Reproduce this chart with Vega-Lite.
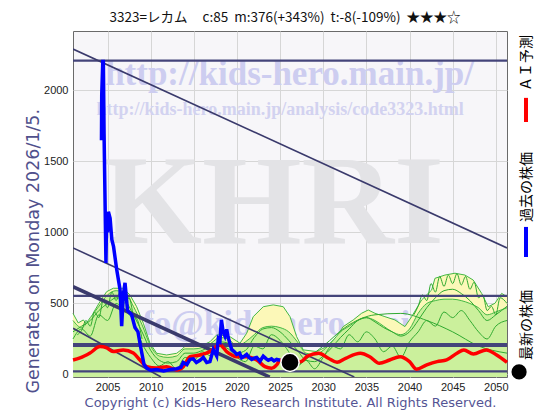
{
  "$schema": "https://vega.github.io/schema/vega-lite/v6.json",
  "width": 434,
  "height": 346,
  "autosize": {"type": "none"},
  "padding": {"left": 73, "top": 31, "right": 53, "bottom": 43},
  "background": "white",
  "title": {
    "text": "3323=レカム\u00a0\u00a0\u00a0\u00a0\u00a0c:85\u00a0\u00a0m:376(+343%)\u00a0\u00a0t:-8(-109%)\u00a0\u00a0★★★☆",
    "font": "Noto Sans CJK JP",
    "fontSize": 13.5,
    "fontWeight": "normal",
    "color": "#111111",
    "anchor": "middle",
    "offset": 7,
    "dx": -5
  },
  "config": {
    "view": {"fill": "#f7f6f9", "stroke": "#6a6a6a", "strokeWidth": 1}
  },
  "datasets": {
    "blue": [
      {"x": 2004.30, "y": 1650}, {"x": 2004.33, "y": 1970}, {"x": 2004.45, "y": 2205}, {"x": 2004.52, "y": 2205},
      {"x": 2004.6, "y": 1700}, {"x": 2004.7, "y": 1280}, {"x": 2004.82, "y": 785}, {"x": 2004.9, "y": 1137},
      {"x": 2005.0, "y": 1000}, {"x": 2005.1, "y": 1146}, {"x": 2005.3, "y": 1100}, {"x": 2005.5, "y": 950},
      {"x": 2005.7, "y": 900}, {"x": 2006.06, "y": 741}, {"x": 2006.45, "y": 599}, {"x": 2006.64, "y": 340},
      {"x": 2006.83, "y": 560}, {"x": 2007.03, "y": 645}, {"x": 2007.32, "y": 450}, {"x": 2007.8, "y": 420},
      {"x": 2008.18, "y": 330}, {"x": 2008.53, "y": 300}, {"x": 2008.82, "y": 200}, {"x": 2009.23, "y": 70},
      {"x": 2009.54, "y": 45}, {"x": 2010.0, "y": 30}, {"x": 2010.7, "y": 35}, {"x": 2011.5, "y": 25},
      {"x": 2012.24, "y": 35}, {"x": 2013.02, "y": 40}, {"x": 2013.5, "y": 50}, {"x": 2013.78, "y": 85},
      {"x": 2014.2, "y": 70}, {"x": 2014.56, "y": 106}, {"x": 2014.94, "y": 110}, {"x": 2015.3, "y": 84},
      {"x": 2015.72, "y": 100}, {"x": 2016.1, "y": 120}, {"x": 2016.5, "y": 84}, {"x": 2016.87, "y": 90},
      {"x": 2017.26, "y": 176}, {"x": 2017.65, "y": 130}, {"x": 2017.84, "y": 250}, {"x": 2018.03, "y": 235},
      {"x": 2018.2, "y": 385}, {"x": 2018.4, "y": 300}, {"x": 2018.61, "y": 270}, {"x": 2018.81, "y": 317},
      {"x": 2018.99, "y": 260}, {"x": 2019.39, "y": 176}, {"x": 2019.7, "y": 160}, {"x": 2019.97, "y": 141},
      {"x": 2020.3, "y": 150}, {"x": 2020.55, "y": 117}, {"x": 2020.9, "y": 130}, {"x": 2021.13, "y": 141},
      {"x": 2021.4, "y": 120}, {"x": 2021.71, "y": 106}, {"x": 2022.0, "y": 115}, {"x": 2022.29, "y": 120},
      {"x": 2022.67, "y": 93}, {"x": 2023.05, "y": 129}, {"x": 2023.4, "y": 110}, {"x": 2023.63, "y": 100},
      {"x": 2024.0, "y": 110}, {"x": 2024.3, "y": 95}, {"x": 2024.6, "y": 106}, {"x": 2025.0, "y": 100}
    ],
    "red": [
      {"x": 2001.0, "y": 102}, {"x": 2001.81, "y": 116}, {"x": 2002.97, "y": 151}, {"x": 2004.13, "y": 196},
      {"x": 2004.91, "y": 187}, {"x": 2005.64, "y": 161}, {"x": 2006.83, "y": 173}, {"x": 2007.99, "y": 151},
      {"x": 2008.76, "y": 102}, {"x": 2009.54, "y": 55}, {"x": 2010.7, "y": 46}, {"x": 2011.86, "y": 55},
      {"x": 2013.02, "y": 32}, {"x": 2013.78, "y": 55}, {"x": 2014.56, "y": 125}, {"x": 2015.72, "y": 137},
      {"x": 2016.87, "y": 161}, {"x": 2018.03, "y": 208}, {"x": 2018.81, "y": 161}, {"x": 2019.97, "y": 125},
      {"x": 2021.13, "y": 125}, {"x": 2022.29, "y": 102}, {"x": 2023.25, "y": 55}, {"x": 2024.02, "y": 44},
      {"x": 2024.6, "y": 67}, {"x": 2024.99, "y": 100}, {"x": 2026.15, "y": 100}, {"x": 2027.4, "y": 90},
      {"x": 2028.2, "y": 130}, {"x": 2029.5, "y": 149}, {"x": 2030.6, "y": 114}, {"x": 2031.6, "y": 86},
      {"x": 2032.6, "y": 114}, {"x": 2034.3, "y": 149}, {"x": 2035.4, "y": 125}, {"x": 2036.5, "y": 79},
      {"x": 2037.7, "y": 102}, {"x": 2038.9, "y": 125}, {"x": 2040.0, "y": 90}, {"x": 2040.8, "y": 37},
      {"x": 2042.0, "y": 67}, {"x": 2043.2, "y": 90}, {"x": 2044.3, "y": 102}, {"x": 2045.5, "y": 149},
      {"x": 2046.3, "y": 173}, {"x": 2047.4, "y": 144}, {"x": 2048.9, "y": 173}, {"x": 2050.1, "y": 137},
      {"x": 2051.3, "y": 85}
    ],
    "yel": [
      {"x": 2001.0, "y": 430}, {"x": 2001.6, "y": 363}, {"x": 2002.2, "y": 384}, {"x": 2002.8, "y": 337},
      {"x": 2003.35, "y": 433}, {"x": 2004.13, "y": 513}, {"x": 2004.9, "y": 583}, {"x": 2005.67, "y": 607},
      {"x": 2006.83, "y": 607}, {"x": 2007.6, "y": 560}, {"x": 2008.38, "y": 477}, {"x": 2009.15, "y": 361},
      {"x": 2009.92, "y": 220}, {"x": 2010.7, "y": 149}, {"x": 2011.86, "y": 137}, {"x": 2013.02, "y": 149},
      {"x": 2013.78, "y": 185}, {"x": 2014.18, "y": 220}, {"x": 2014.94, "y": 196}, {"x": 2016.1, "y": 208},
      {"x": 2016.87, "y": 230}, {"x": 2017.65, "y": 278}, {"x": 2018.03, "y": 278}, {"x": 2019.19, "y": 266},
      {"x": 2020.35, "y": 220}, {"x": 2021.13, "y": 290}, {"x": 2021.89, "y": 407}, {"x": 2023.05, "y": 477},
      {"x": 2024.21, "y": 490}, {"x": 2025.37, "y": 477}, {"x": 2026.15, "y": 407}, {"x": 2026.92, "y": 266},
      {"x": 2027.69, "y": 173}, {"x": 2029.24, "y": 161}, {"x": 2030.4, "y": 196}, {"x": 2031.56, "y": 266},
      {"x": 2032.32, "y": 337}, {"x": 2033.48, "y": 384}, {"x": 2034.45, "y": 431}, {"x": 2035.22, "y": 454},
      {"x": 2035.99, "y": 431}, {"x": 2037.15, "y": 407}, {"x": 2038.31, "y": 384}, {"x": 2039.47, "y": 337},
      {"x": 2040.25, "y": 407}, {"x": 2041.41, "y": 525}, {"x": 2042.57, "y": 595}, {"x": 2042.95, "y": 677},
      {"x": 2044.11, "y": 700}, {"x": 2045.27, "y": 713}, {"x": 2046.42, "y": 700}, {"x": 2047.38, "y": 665},
      {"x": 2048.36, "y": 571}, {"x": 2049.12, "y": 477}, {"x": 2049.9, "y": 501}, {"x": 2050.68, "y": 571},
      {"x": 2051.3, "y": 547}
    ],
    "grn": [
      {"x": 2001, "y": 380}, {"x": 2002, "y": 330}, {"x": 2003, "y": 400}, {"x": 2004, "y": 480},
      {"x": 2005, "y": 560}, {"x": 2006, "y": 590}, {"x": 2007, "y": 580}, {"x": 2008, "y": 480},
      {"x": 2009, "y": 350}, {"x": 2010, "y": 200}, {"x": 2011, "y": 130}, {"x": 2012, "y": 120},
      {"x": 2013, "y": 130}, {"x": 2014, "y": 180}, {"x": 2015, "y": 180}, {"x": 2016, "y": 190},
      {"x": 2017, "y": 220}, {"x": 2018, "y": 260}, {"x": 2019, "y": 250}, {"x": 2020, "y": 200},
      {"x": 2021, "y": 230}, {"x": 2022, "y": 280}, {"x": 2023, "y": 330}, {"x": 2024, "y": 340},
      {"x": 2025, "y": 330}, {"x": 2026, "y": 300}, {"x": 2027, "y": 230}, {"x": 2028, "y": 150},
      {"x": 2029, "y": 140}, {"x": 2030, "y": 170}, {"x": 2031, "y": 230}, {"x": 2032, "y": 300},
      {"x": 2033, "y": 340}, {"x": 2034, "y": 380}, {"x": 2035, "y": 400}, {"x": 2036, "y": 380},
      {"x": 2037, "y": 340}, {"x": 2038, "y": 300}, {"x": 2039, "y": 280}, {"x": 2040, "y": 320},
      {"x": 2041, "y": 430}, {"x": 2042, "y": 500}, {"x": 2043, "y": 520}, {"x": 2044, "y": 530},
      {"x": 2045, "y": 530}, {"x": 2046, "y": 520}, {"x": 2047, "y": 500}, {"x": 2048, "y": 470},
      {"x": 2049, "y": 420}, {"x": 2050, "y": 440}, {"x": 2051.3, "y": 470}
    ],
    "glines": [
      {"id": "g2", "x": 2001, "y": 300}, {"id": "g2", "x": 2002, "y": 340}, {"id": "g2", "x": 2003, "y": 380}, {"id": "g2", "x": 2004, "y": 450},
      {"id": "g2", "x": 2005, "y": 500}, {"id": "g2", "x": 2006, "y": 540}, {"id": "g2", "x": 2007, "y": 520}, {"id": "g2", "x": 2008, "y": 420},
      {"id": "g2", "x": 2009, "y": 300}, {"id": "g2", "x": 2010, "y": 170}, {"id": "g2", "x": 2011, "y": 100}, {"id": "g2", "x": 2012, "y": 80},
      {"id": "g2", "x": 2013, "y": 90}, {"id": "g2", "x": 2014, "y": 150}, {"id": "g2", "x": 2015, "y": 150}, {"id": "g2", "x": 2016, "y": 170},
      {"id": "g2", "x": 2017, "y": 200}, {"id": "g2", "x": 2018, "y": 230}, {"id": "g2", "x": 2019, "y": 220}, {"id": "g2", "x": 2020, "y": 150},
      {"id": "g2", "x": 2021, "y": 170}, {"id": "g2", "x": 2022, "y": 260}, {"id": "g2", "x": 2023, "y": 320}, {"id": "g2", "x": 2024, "y": 330},
      {"id": "g2", "x": 2025, "y": 300}, {"id": "g2", "x": 2026, "y": 240}, {"id": "g2", "x": 2027, "y": 170}, {"id": "g2", "x": 2028, "y": 100},
      {"id": "g2", "x": 2029, "y": 90}, {"id": "g2", "x": 2030, "y": 130}, {"id": "g2", "x": 2031, "y": 190}, {"id": "g2", "x": 2032, "y": 260},
      {"id": "g2", "x": 2033, "y": 320}, {"id": "g2", "x": 2034, "y": 380}, {"id": "g2", "x": 2035, "y": 400}, {"id": "g2", "x": 2036, "y": 370},
      {"id": "g2", "x": 2037, "y": 330}, {"id": "g2", "x": 2038, "y": 300}, {"id": "g2", "x": 2039, "y": 270}, {"id": "g2", "x": 2040, "y": 300},
      {"id": "g2", "x": 2041, "y": 380}, {"id": "g2", "x": 2042, "y": 470}, {"id": "g2", "x": 2043, "y": 540}, {"id": "g2", "x": 2044, "y": 590},
      {"id": "g2", "x": 2045, "y": 600}, {"id": "g2", "x": 2046, "y": 570}, {"id": "g2", "x": 2047, "y": 520}, {"id": "g2", "x": 2048, "y": 450},
      {"id": "g2", "x": 2049, "y": 380}, {"id": "g2", "x": 2050, "y": 420}, {"id": "g2", "x": 2051.3, "y": 480},
      {"id": "g3", "x": 2001, "y": 250}, {"id": "g3", "x": 2002, "y": 320}, {"id": "g3", "x": 2003, "y": 270}, {"id": "g3", "x": 2004, "y": 420},
      {"id": "g3", "x": 2005, "y": 380}, {"id": "g3", "x": 2006, "y": 500}, {"id": "g3", "x": 2007, "y": 450}, {"id": "g3", "x": 2008, "y": 380},
      {"id": "g3", "x": 2009, "y": 220}, {"id": "g3", "x": 2010, "y": 120}, {"id": "g3", "x": 2011, "y": 60}, {"id": "g3", "x": 2012, "y": 90},
      {"id": "g3", "x": 2013, "y": 40}, {"id": "g3", "x": 2014, "y": 120}, {"id": "g3", "x": 2015, "y": 100}, {"id": "g3", "x": 2016, "y": 160},
      {"id": "g3", "x": 2017, "y": 130}, {"id": "g3", "x": 2018, "y": 200}, {"id": "g3", "x": 2019, "y": 180}, {"id": "g3", "x": 2020, "y": 120},
      {"id": "g3", "x": 2021, "y": 90}, {"id": "g3", "x": 2022, "y": 200}, {"id": "g3", "x": 2023, "y": 180}, {"id": "g3", "x": 2024, "y": 280},
      {"id": "g3", "x": 2025, "y": 240}, {"id": "g3", "x": 2026, "y": 160}, {"id": "g3", "x": 2027, "y": 60}, {"id": "g3", "x": 2028, "y": 100},
      {"id": "g3", "x": 2029, "y": 40}, {"id": "g3", "x": 2030, "y": 120}, {"id": "g3", "x": 2031, "y": 200}, {"id": "g3", "x": 2032, "y": 180},
      {"id": "g3", "x": 2033, "y": 280}, {"id": "g3", "x": 2034, "y": 230}, {"id": "g3", "x": 2035, "y": 300}, {"id": "g3", "x": 2036, "y": 250},
      {"id": "g3", "x": 2037, "y": 160}, {"id": "g3", "x": 2038, "y": 200}, {"id": "g3", "x": 2039, "y": 120}, {"id": "g3", "x": 2040, "y": 230},
      {"id": "g3", "x": 2041, "y": 300}, {"id": "g3", "x": 2042, "y": 380}, {"id": "g3", "x": 2043, "y": 340}, {"id": "g3", "x": 2044, "y": 440},
      {"id": "g3", "x": 2045, "y": 400}, {"id": "g3", "x": 2046, "y": 450}, {"id": "g3", "x": 2047, "y": 380}, {"id": "g3", "x": 2048, "y": 300},
      {"id": "g3", "x": 2049, "y": 250}, {"id": "g3", "x": 2050, "y": 340}, {"id": "g3", "x": 2051.3, "y": 380},
      {"id": "g4", "x": 2040.5, "y": 420}, {"id": "g4", "x": 2041, "y": 480}, {"id": "g4", "x": 2041.5, "y": 560}, {"id": "g4", "x": 2042, "y": 520},
      {"id": "g4", "x": 2042.5, "y": 640}, {"id": "g4", "x": 2043, "y": 580}, {"id": "g4", "x": 2043.5, "y": 690}, {"id": "g4", "x": 2044, "y": 620},
      {"id": "g4", "x": 2044.5, "y": 700}, {"id": "g4", "x": 2045, "y": 640}, {"id": "g4", "x": 2045.5, "y": 710}, {"id": "g4", "x": 2046, "y": 630},
      {"id": "g4", "x": 2046.5, "y": 690}, {"id": "g4", "x": 2047, "y": 600}, {"id": "g4", "x": 2047.5, "y": 650}, {"id": "g4", "x": 2048, "y": 540},
      {"id": "g4", "x": 2048.5, "y": 560}, {"id": "g4", "x": 2049, "y": 450}, {"id": "g4", "x": 2049.5, "y": 480}, {"id": "g4", "x": 2050, "y": 420},
      {"id": "g4", "x": 2050.5, "y": 540}, {"id": "g4", "x": 2051.3, "y": 500},
      {"id": "g5", "x": 2001.5, "y": 280}, {"id": "g5", "x": 2002, "y": 310}, {"id": "g5", "x": 2002.5, "y": 380}, {"id": "g5", "x": 2003, "y": 340},
      {"id": "g5", "x": 2003.5, "y": 440}, {"id": "g5", "x": 2004, "y": 400}, {"id": "g5", "x": 2004.5, "y": 520}, {"id": "g5", "x": 2005, "y": 470},
      {"id": "g5", "x": 2005.5, "y": 580}, {"id": "g5", "x": 2006, "y": 520}, {"id": "g5", "x": 2006.5, "y": 590}, {"id": "g5", "x": 2007, "y": 500},
      {"id": "g5", "x": 2007.5, "y": 540}, {"id": "g5", "x": 2008, "y": 420}, {"id": "g5", "x": 2008.5, "y": 380}, {"id": "g5", "x": 2009, "y": 250},
      {"id": "g6", "x": 2027, "y": 60}, {"id": "g6", "x": 2030, "y": 200}, {"id": "g6", "x": 2033, "y": 350}, {"id": "g6", "x": 2036, "y": 420},
      {"id": "g6", "x": 2039, "y": 430}, {"id": "g6", "x": 2042, "y": 380}, {"id": "g6", "x": 2045, "y": 300}, {"id": "g6", "x": 2048, "y": 200},
      {"id": "g6", "x": 2051.3, "y": 150}
    ],
    "diag": [
      {"id": "a", "x": 2001, "y": 2292}, {"id": "a", "x": 2051.3, "y": 891},
      {"id": "b", "x": 2001, "y": 891}, {"id": "b", "x": 2033.6, "y": -18},
      {"id": "d", "x": 2001, "y": 325}, {"id": "d", "x": 2011.2, "y": -18}
    ],
    "thick": [{"x": 2001, "y": 618}, {"x": 2023.8, "y": -18}]
  },
  "layer": [
    {
      "data": {"values": [{"x": 2026.1, "y": 2039, "t": "http://kids-hero.main.jp/"}]},
      "mark": {"type": "text", "font": "Liberation Serif", "fontWeight": "bold", "fontSize": 35, "color": "#cdcdf0", "align": "center", "baseline": "alphabetic"},
      "encoding": {
        "x": {"field": "x", "type": "quantitative", "scale": {"domain": [2001, 2051.3], "nice": false, "zero": false},
          "axis": {"values": [2005, 2010, 2015, 2020, 2025, 2030, 2035, 2040, 2045, 2050], "format": "d",
            "title": "Copyright (c) Kids-Hero Research Institute. All Rights Reserved.",
            "titleFont": "DejaVu Sans", "titleFontSize": 13, "titleFontWeight": "normal", "titleColor": "#545494", "titlePadding": 4,
            "labelFont": "Liberation Sans", "labelFontSize": 11, "labelColor": "#222222", "labelPadding": 4,
            "grid": true, "gridColor": "#d6d6d6", "domain": false, "tickSize": 0}},
        "y": {"field": "y", "type": "quantitative", "scale": {"domain": [-18, 2419], "nice": false, "zero": false},
          "axis": {"values": [0, 500, 1000, 1500, 2000], "format": "d",
            "title": "Generated on Monday 2026/1/5.",
            "titleFont": "DejaVu Sans", "titleFontSize": 17.5, "titleFontWeight": "normal", "titleColor": "#50508c",
            "titleX": -40, "titleY": 362, "titleAngle": 270, "titleAlign": "left", "titleBaseline": "middle",
            "labelFont": "Liberation Sans", "labelFontSize": 11, "labelColor": "#222222", "labelPadding": 5,
            "grid": true, "gridColor": "#d6d6d6", "domain": false, "tickSize": 0}},
        "text": {"field": "t"}
      }
    },
    {
      "data": {"values": [{"x": 2025.0, "y": 1828, "t": "http://kids-hero.main.jp/analysis/code3323.html"}]},
      "mark": {"type": "text", "font": "Liberation Serif", "fontWeight": "bold", "fontSize": 18, "color": "#d2d2f0", "align": "center", "baseline": "alphabetic"},
      "encoding": {
        "x": {"field": "x", "type": "quantitative", "scale": {"domain": [2001, 2051.3], "nice": false, "zero": false}},
        "y": {"field": "y", "type": "quantitative", "scale": {"domain": [-18, 2419], "nice": false, "zero": false}},
        "text": {"field": "t"}
      }
    },
    {
      "data": {"values": [{"x": 2024.2, "y": 926, "t": "KHRI"}]},
      "mark": {"type": "text", "font": "Liberation Serif", "fontWeight": "bold", "fontSize": 128, "color": "#e3e3e6", "align": "center", "baseline": "alphabetic"},
      "encoding": {
        "x": {"field": "x", "type": "quantitative", "scale": {"domain": [2001, 2051.3], "nice": false, "zero": false}},
        "y": {"field": "y", "type": "quantitative", "scale": {"domain": [-18, 2419], "nice": false, "zero": false}},
        "text": {"field": "t"}
      }
    },
    {
      "data": {"values": [{"x": 2026.3, "y": 278, "t": "info@kids-hero.main.jp"}]},
      "mark": {"type": "text", "font": "Liberation Serif", "fontWeight": "bold", "fontSize": 35, "color": "#cdcdf0", "align": "center", "baseline": "alphabetic"},
      "encoding": {
        "x": {"field": "x", "type": "quantitative", "scale": {"domain": [2001, 2051.3], "nice": false, "zero": false}},
        "y": {"field": "y", "type": "quantitative", "scale": {"domain": [-18, 2419], "nice": false, "zero": false}},
        "text": {"field": "t"}
      }
    },
    {
      "data": {"name": "yel"},
      "mark": {"type": "area", "color": "#fcf8b8", "opacity": 1, "line": {"color": "#44b844", "strokeWidth": 1}},
      "encoding": {
        "x": {"field": "x", "type": "quantitative", "scale": {"domain": [2001, 2051.3], "nice": false, "zero": false}},
        "y": {"field": "y", "type": "quantitative", "scale": {"domain": [-18, 2419], "nice": false, "zero": false}},
        "y2": {"datum": -18}
      }
    },
    {
      "data": {"name": "grn"},
      "mark": {"type": "area", "color": "#cbf09c", "opacity": 1, "interpolate": "monotone", "line": {"color": "#44b844", "strokeWidth": 1}},
      "encoding": {
        "x": {"field": "x", "type": "quantitative", "scale": {"domain": [2001, 2051.3], "nice": false, "zero": false}},
        "y": {"field": "y", "type": "quantitative", "scale": {"domain": [-18, 2419], "nice": false, "zero": false}},
        "y2": {"datum": -18}
      }
    },
    {
      "data": {"name": "glines"},
      "mark": {"type": "line", "color": "#30aa30", "strokeWidth": 1, "interpolate": "monotone"},
      "encoding": {
        "x": {"field": "x", "type": "quantitative", "scale": {"domain": [2001, 2051.3], "nice": false, "zero": false}},
        "y": {"field": "y", "type": "quantitative", "scale": {"domain": [-18, 2419], "nice": false, "zero": false}},
        "detail": {"field": "id"}
      }
    },
    {
      "data": {"values": [{"y": 2210}, {"y": 553}, {"y": 22}]},
      "mark": {"type": "rule", "color": "#44447a", "strokeWidth": 2.2},
      "encoding": {
        "y": {"field": "y", "type": "quantitative", "scale": {"domain": [-18, 2419], "nice": false, "zero": false}}
      }
    },
    {
      "data": {"values": [{"y": 208}]},
      "mark": {"type": "rule", "color": "#44447a", "strokeWidth": 4},
      "encoding": {
        "y": {"field": "y", "type": "quantitative", "scale": {"domain": [-18, 2419], "nice": false, "zero": false}}
      }
    },
    {
      "data": {"name": "diag"},
      "mark": {"type": "line", "color": "#3a3a6c", "strokeWidth": 1.6, "clip": true},
      "encoding": {
        "x": {"field": "x", "type": "quantitative", "scale": {"domain": [2001, 2051.3], "nice": false, "zero": false}},
        "y": {"field": "y", "type": "quantitative", "scale": {"domain": [-18, 2419], "nice": false, "zero": false}},
        "detail": {"field": "id"}
      }
    },
    {
      "data": {"name": "thick"},
      "mark": {"type": "line", "color": "#3a3a6c", "strokeWidth": 3.5, "clip": true},
      "encoding": {
        "x": {"field": "x", "type": "quantitative", "scale": {"domain": [2001, 2051.3], "nice": false, "zero": false}},
        "y": {"field": "y", "type": "quantitative", "scale": {"domain": [-18, 2419], "nice": false, "zero": false}}
      }
    },
    {
      "data": {"name": "red"},
      "mark": {"type": "line", "color": "#ff0000", "strokeWidth": 3.5, "interpolate": "monotone"},
      "encoding": {
        "x": {"field": "x", "type": "quantitative", "scale": {"domain": [2001, 2051.3], "nice": false, "zero": false}},
        "y": {"field": "y", "type": "quantitative", "scale": {"domain": [-18, 2419], "nice": false, "zero": false}}
      }
    },
    {
      "data": {"name": "blue"},
      "mark": {"type": "line", "color": "#0000ff", "strokeWidth": 3.5},
      "encoding": {
        "x": {"field": "x", "type": "quantitative", "scale": {"domain": [2001, 2051.3], "nice": false, "zero": false}},
        "y": {"field": "y", "type": "quantitative", "scale": {"domain": [-18, 2419], "nice": false, "zero": false}}
      }
    },
    {
      "data": {"values": [{"x": 2026.15, "y": 85}]},
      "mark": {"type": "point", "filled": true, "color": "#000000", "size": 330, "opacity": 1, "stroke": "#ffffff", "strokeWidth": 1.5},
      "encoding": {
        "x": {"field": "x", "type": "quantitative", "scale": {"domain": [2001, 2051.3], "nice": false, "zero": false}},
        "y": {"field": "y", "type": "quantitative", "scale": {"domain": [-18, 2419], "nice": false, "zero": false}}
      }
    },
    {
      "data": {"values": [
        {"x": 2053.6, "y": 2193, "t": "ＡＩ予測"},
        {"x": 2053.6, "y": 1320, "t": "過去の株価"},
        {"x": 2053.6, "y": 349, "t": "最新の株価"}
      ]},
      "mark": {"type": "text", "font": "Noto Sans CJK JP", "fontSize": 14, "color": "#000000", "angle": 270, "align": "center", "baseline": "middle"},
      "encoding": {
        "x": {"field": "x", "type": "quantitative", "scale": {"domain": [2001, 2051.3], "nice": false, "zero": false}},
        "y": {"field": "y", "type": "quantitative", "scale": {"domain": [-18, 2419], "nice": false, "zero": false}},
        "text": {"field": "t"}
      }
    },
    {
      "data": {"values": [{"x": 2053.5, "y": 1778, "y2": 1948}]},
      "mark": {"type": "rule", "color": "#ff0000", "strokeWidth": 4},
      "encoding": {
        "x": {"field": "x", "type": "quantitative", "scale": {"domain": [2001, 2051.3], "nice": false, "zero": false}},
        "y": {"field": "y", "type": "quantitative", "scale": {"domain": [-18, 2419], "nice": false, "zero": false}},
        "y2": {"field": "y2"}
      }
    },
    {
      "data": {"values": [{"x": 2053.5, "y": 827, "y2": 1039}]},
      "mark": {"type": "rule", "color": "#0000ff", "strokeWidth": 4},
      "encoding": {
        "x": {"field": "x", "type": "quantitative", "scale": {"domain": [2001, 2051.3], "nice": false, "zero": false}},
        "y": {"field": "y", "type": "quantitative", "scale": {"domain": [-18, 2419], "nice": false, "zero": false}},
        "y2": {"field": "y2"}
      }
    },
    {
      "data": {"values": [{"x": 2052.7, "y": 18}]},
      "mark": {"type": "point", "filled": true, "color": "#000000", "size": 230, "opacity": 1},
      "encoding": {
        "x": {"field": "x", "type": "quantitative", "scale": {"domain": [2001, 2051.3], "nice": false, "zero": false}},
        "y": {"field": "y", "type": "quantitative", "scale": {"domain": [-18, 2419], "nice": false, "zero": false}}
      }
    }
  ]
}
